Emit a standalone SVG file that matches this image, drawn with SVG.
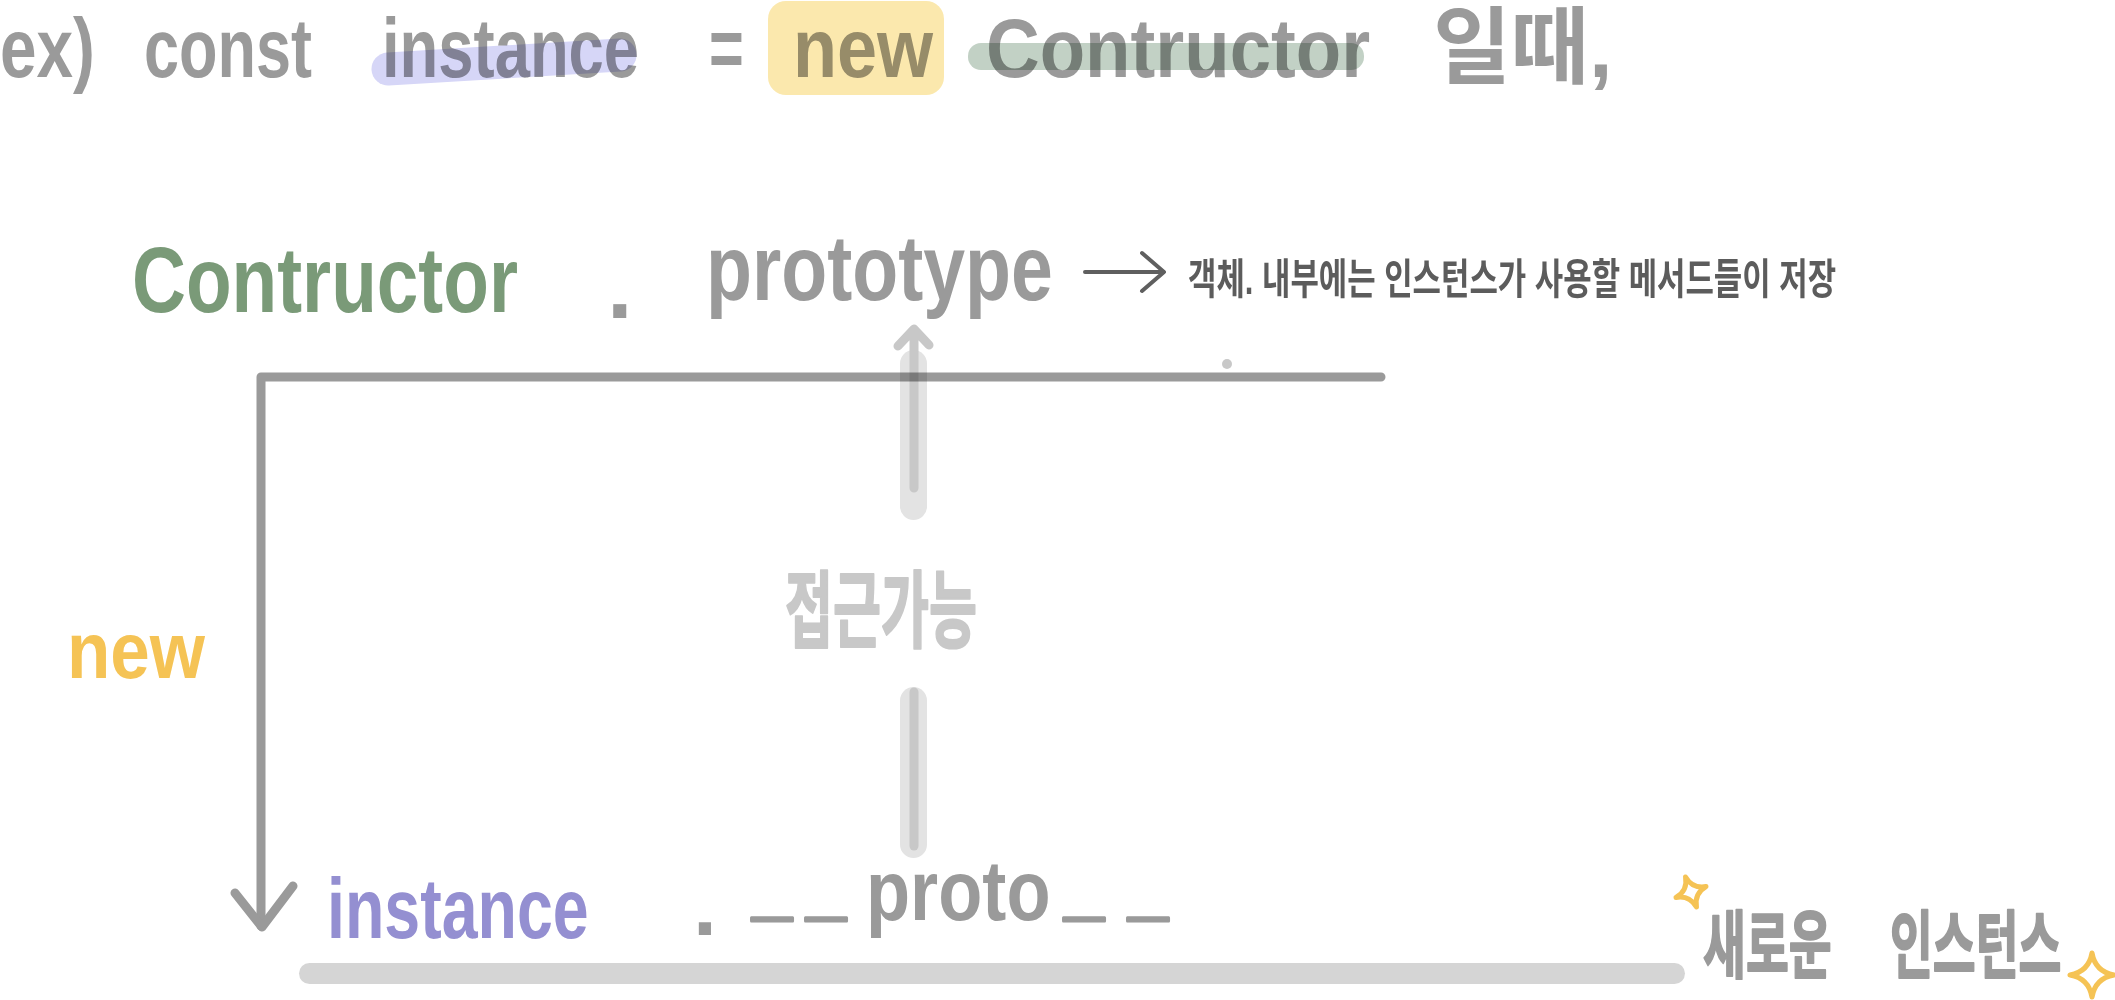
<svg xmlns="http://www.w3.org/2000/svg" width="2115" height="1000" viewBox="0 0 2115 1000">
  <style>
    text { font-family: 'Liberation Sans', 'Noto Sans CJK KR', sans-serif; font-weight: bold; }
    .gray { fill: #9a9a9a; }
    .mul { mix-blend-mode: multiply; }
    .us { stroke: #9a9a9a; stroke-width: 3; stroke-linejoin: round; }
    .marker { stroke-width: 2; stroke-linejoin: round; }
    .line { fill: none; stroke: #9a9a9a; stroke-width: 9; stroke-linecap: round; stroke-linejoin: round; }
    .lite-bar { fill: none; stroke: #e3e3e3; stroke-width: 27; stroke-linecap: round; }
    .lite-line { fill: none; stroke: #c8c8c8; stroke-width: 9; stroke-linecap: round; stroke-linejoin: round; }
    .spark { fill: none; stroke: #f5c355; stroke-linejoin: round; stroke-linecap: round; }
  </style>
  <defs>
    <path id="star" d="M0,-1 Q0.15,-0.15 1,0 Q0.15,0.15 0,1 Q-0.15,0.15 -1,0 Q-0.15,-0.15 0,-1 Z"/>
  </defs>
  <rect width="2115" height="1000" fill="#ffffff"/>

  <!-- Title line -->
  <g id="title" class="gray" font-size="84">
    <text transform="translate(0,77) scale(0.785,1)" textLength="121" lengthAdjust="spacingAndGlyphs">ex)</text>
    <text transform="translate(144,77) scale(0.75,1)" textLength="224" lengthAdjust="spacingAndGlyphs">const</text>
    <text transform="translate(382,77) scale(0.754,1)" textLength="341" lengthAdjust="spacingAndGlyphs">instance</text>
    <text transform="translate(709,77) scale(0.71,1)" textLength="49" lengthAdjust="spacingAndGlyphs">=</text>
    <text transform="translate(793,77) scale(0.86,1)" textLength="163" lengthAdjust="spacingAndGlyphs">new</text>
    <text transform="translate(986,77) scale(0.885,1)" textLength="434" lengthAdjust="spacingAndGlyphs">Contructor</text>
    <text transform="translate(1433,77) scale(0.94,1)" textLength="191" lengthAdjust="spacingAndGlyphs">일때,</text>
    <path class="mul" d="M388,69 L620,55" stroke="#d6d6f7" stroke-width="33" stroke-linecap="round" fill="none"/>
    <rect class="mul" x="768" y="1" width="176" height="94" rx="18" fill="#fbe8ad"/>
    <rect class="mul" x="968" y="43" width="396" height="27" rx="13" fill="#c2d1c5"/>
  </g>

  <!-- Constructor.prototype node -->
  <g id="constructor-prototype" font-size="92">
    <text transform="translate(132,312) scale(0.81,1)" fill="#7a9a78" textLength="476.5" lengthAdjust="spacingAndGlyphs">Contructor</text>
    <text class="gray" x="607" y="318">.</text>
    <text class="gray" transform="translate(706,300) scale(0.82,1)" textLength="423" lengthAdjust="spacingAndGlyphs">prototype</text>
  </g>

  <!-- description -->
  <g id="prototype-note">
    <text transform="translate(1188,294) scale(0.652,1)" font-size="42" font-weight="normal" fill="#5c5c5c" textLength="994" lengthAdjust="spacingAndGlyphs">객체. 내부에는 인스턴스가 사용할 메서드들이 저장</text>
  </g>

  <!-- new label -->
  <g id="new-label">
    <text transform="translate(67,678) scale(0.885,1)" font-size="80" fill="#f5c355" textLength="156" lengthAdjust="spacingAndGlyphs">new</text>
  </g>

  <!-- access label -->
  <g id="access-label">
    <text class="marker" transform="translate(785,641) scale(0.571,1)" font-size="84" fill="#c8c8c8" stroke="#c8c8c8" textLength="336" lengthAdjust="spacingAndGlyphs">접근가능</text>
  </g>

  <!-- instance.__proto__ node -->
  <g id="instance-proto" font-size="86">
    <text transform="translate(327,938) scale(0.75,1)" fill="#948fd1" textLength="349" lengthAdjust="spacingAndGlyphs">instance</text>
    <text class="gray" x="693" y="935">.</text>
    <text class="gray" transform="translate(752,0) scale(0.84,1)"><tspan class="us" x="0" y="911">_</tspan><tspan class="us" x="64.3" y="911">_</tspan><tspan x="135.7" y="920">proto</tspan><tspan class="us" x="371.4" y="911">_</tspan><tspan class="us" x="447.6" y="911">_</tspan></text>
    <path d="M309.5,973.5 L1674.5,973.5" stroke="#d5d5d5" stroke-width="21" stroke-linecap="round" fill="none"/>
  </g>

  <!-- new instance label -->
  <g id="new-instance-label">
    <text class="gray marker" stroke="#9a9a9a" font-size="74" transform="translate(1703,972) scale(0.63,1)"><tspan x="0">새로운</tspan> <tspan x="296.8">인스턴스</tspan></text>
    <use href="#star" class="spark" transform="translate(1691,892) rotate(-20) scale(16)" style="stroke-width:0.31"/>
    <use href="#star" class="spark" transform="translate(2092,975) scale(22)" style="stroke-width:0.23"/>
  </g>

  <!-- connectors -->
  <g id="connectors">
    <path class="line" d="M1381,377 L261,377 L261,926"/>
    <path class="line" d="M235,893 L262,927 L293,886"/>
    <path d="M1085,272 L1163,272 M1142,253 L1164,272 L1142,291" fill="none" stroke="#5f5f5f" stroke-width="4" stroke-linecap="round" stroke-linejoin="round"/>
    <g class="mul">
      <path class="lite-bar" d="M913.5,363.5 L913.5,506.5"/>
      <path class="lite-line" d="M914,488 L914,331 M898,346 L914,329 L929,345"/>
      <path class="lite-bar" d="M913.5,700.5 L913.5,844.5"/>
      <path class="lite-line" d="M914,692 L914,846"/>
    </g>
    <circle cx="1227" cy="364" r="5" fill="#c8c8c8"/>
  </g>
</svg>
